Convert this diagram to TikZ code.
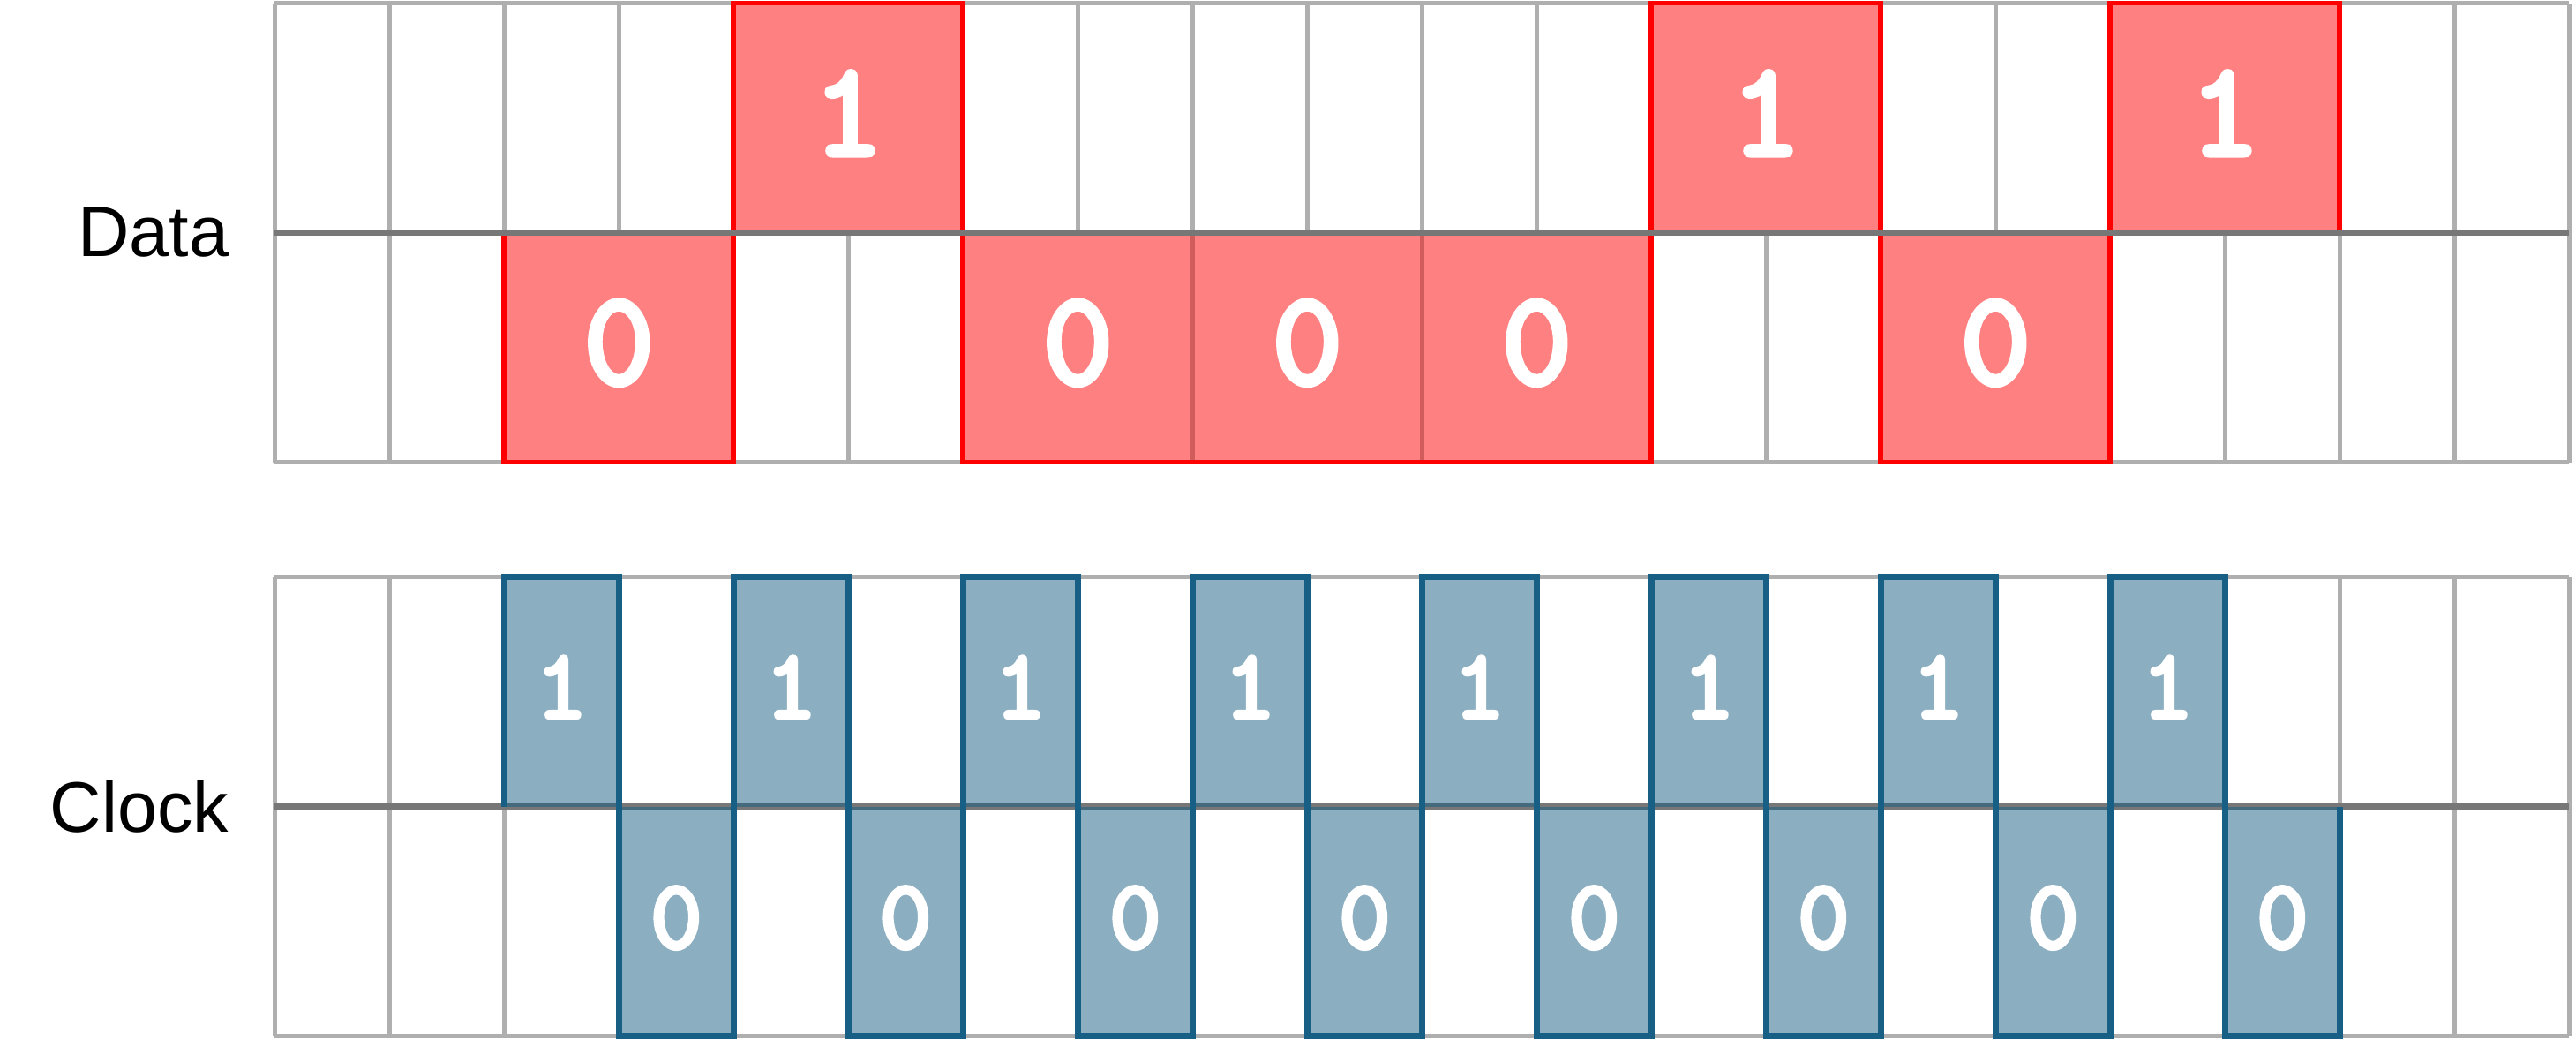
\documentclass[tikz,border=0pt]{standalone}
\usepackage{fontspec}
\setmainfont{Liberation Sans}
\newfontfamily\digitfont{lmmonolt10-bold.otf}[FakeBold=2.5]
\definecolor{gridgray}{HTML}{AFAFAF}
\definecolor{midgray}{HTML}{777777}
\definecolor{datared}{HTML}{FF0000}
\definecolor{datafill}{HTML}{FF8080}
\definecolor{divred}{HTML}{D15C5C}
\definecolor{clkblue}{HTML}{175F84}
\tikzset{
  gridline/.style={draw=gridgray, line width=1.1pt},
  midline/.style={draw=midgray, line width=1.5pt},
  datawave/.style={draw=datared, line width=1.3pt},
  databox/.style={fill=datafill, draw=none},
  divline/.style={draw=divred, line width=1.1pt},
  clkwave/.style={draw=clkblue, line width=1.5pt},
  clkbox/.style={fill=clkblue, fill opacity=0.5, draw=none},
  bigdigit/.style={text=white, font=\digitfont\fontsize{34}{34}\selectfont, inner sep=0pt},
  smalldigit/.style={text=white, font=\digitfont\fontsize{25}{25}\selectfont, inner sep=0pt},
  rowlabel/.style={anchor=east, inner sep=0pt, font=\fontsize{17.7}{18}\selectfont}
}
\begin{document}
\begin{tikzpicture}
\useasboundingbox (0,0) rectangle (22.454,9.054);
% ---------------- Data band ----------------
\begin{scope}[xshift=2.395cm, yshift=5.027cm]
  % grid
  \foreach \i in {0,...,20} \draw[gridline] (\i,0) -- (\i,4);
  \draw[gridline] (0,0) -- (20,0);
  \draw[gridline] (0,4) -- (20,4);
  % fills
  \fill[databox] (2,0) rectangle (4,2);
  \fill[databox] (4,2) rectangle (6,4);
  \fill[databox] (6,0) rectangle (12,2);
  \fill[databox] (12,2) rectangle (14,4);
  \fill[databox] (14,0) rectangle (16,2);
  \fill[databox] (16,2) rectangle (18,4);
  \draw[divline] (8,0) -- (8,2);
  \draw[divline] (10,0) -- (10,2);
  % waveform
  \draw[datawave] (2,2) -- (2,0) -- (4,0) -- (4,4) -- (6,4) -- (6,0) -- (12,0)
     -- (12,4) -- (14,4) -- (14,0) -- (16,0) -- (16,4) -- (18,4) -- (18,2);
  % mid line
  \draw[midline] (0,2) -- (20,2);
  % digits
  \node[bigdigit] (d1) at (3,1.04) {0};
  \node[bigdigit] (d2) at (5,3.04) {1};
  \node[bigdigit] (d3) at (7,1.04) {0};
  \node[bigdigit] (d4) at (9,1.04) {0};
  \node[bigdigit] (d5) at (11,1.04) {0};
  \node[bigdigit] (d6) at (13,3.04) {1};
  \node[bigdigit] (d7) at (15,1.04) {0};
  \node[bigdigit] (d8) at (17,3.04) {1};
\end{scope}
\node[rowlabel] (datalabel) at (2.0,7.027) {Data};
% ---------------- Clock band ----------------
\begin{scope}[xshift=2.395cm, yshift=0.027cm]
  \foreach \i in {0,...,20} \draw[gridline] (\i,0) -- (\i,4);
  \draw[gridline] (0,0) -- (20,0);
  \draw[gridline] (0,4) -- (20,4);
  \draw[midline] (0,2) -- (20,2);
  \foreach \k in {2,4,...,16} {
    \fill[clkbox] (\k,2) rectangle (\k+1,4);
    \fill[clkbox] (\k+1,0) rectangle (\k+2,2);
  }
  \draw[clkwave] (2,2) -- (2,4) -- (3,4) -- (3,0) -- (4,0)
    -- (4,4) -- (5,4) -- (5,0) -- (6,0)
    -- (6,4) -- (7,4) -- (7,0) -- (8,0)
    -- (8,4) -- (9,4) -- (9,0) -- (10,0)
    -- (10,4) -- (11,4) -- (11,0) -- (12,0)
    -- (12,4) -- (13,4) -- (13,0) -- (14,0)
    -- (14,4) -- (15,4) -- (15,0) -- (16,0)
    -- (16,4) -- (17,4) -- (17,0) -- (18,0) -- (18,2);
  \foreach \k [count=\n] in {2,4,...,16} {
    \node[smalldigit] (c1-\n) at (\k+0.5,3.04) {1};
    \node[smalldigit] (c0-\n) at (\k+1.5,1.03) {0};
  }
\end{scope}
\node[rowlabel] (clocklabel) at (2.0,2.027) {Clock};
\end{tikzpicture}
\end{document}
